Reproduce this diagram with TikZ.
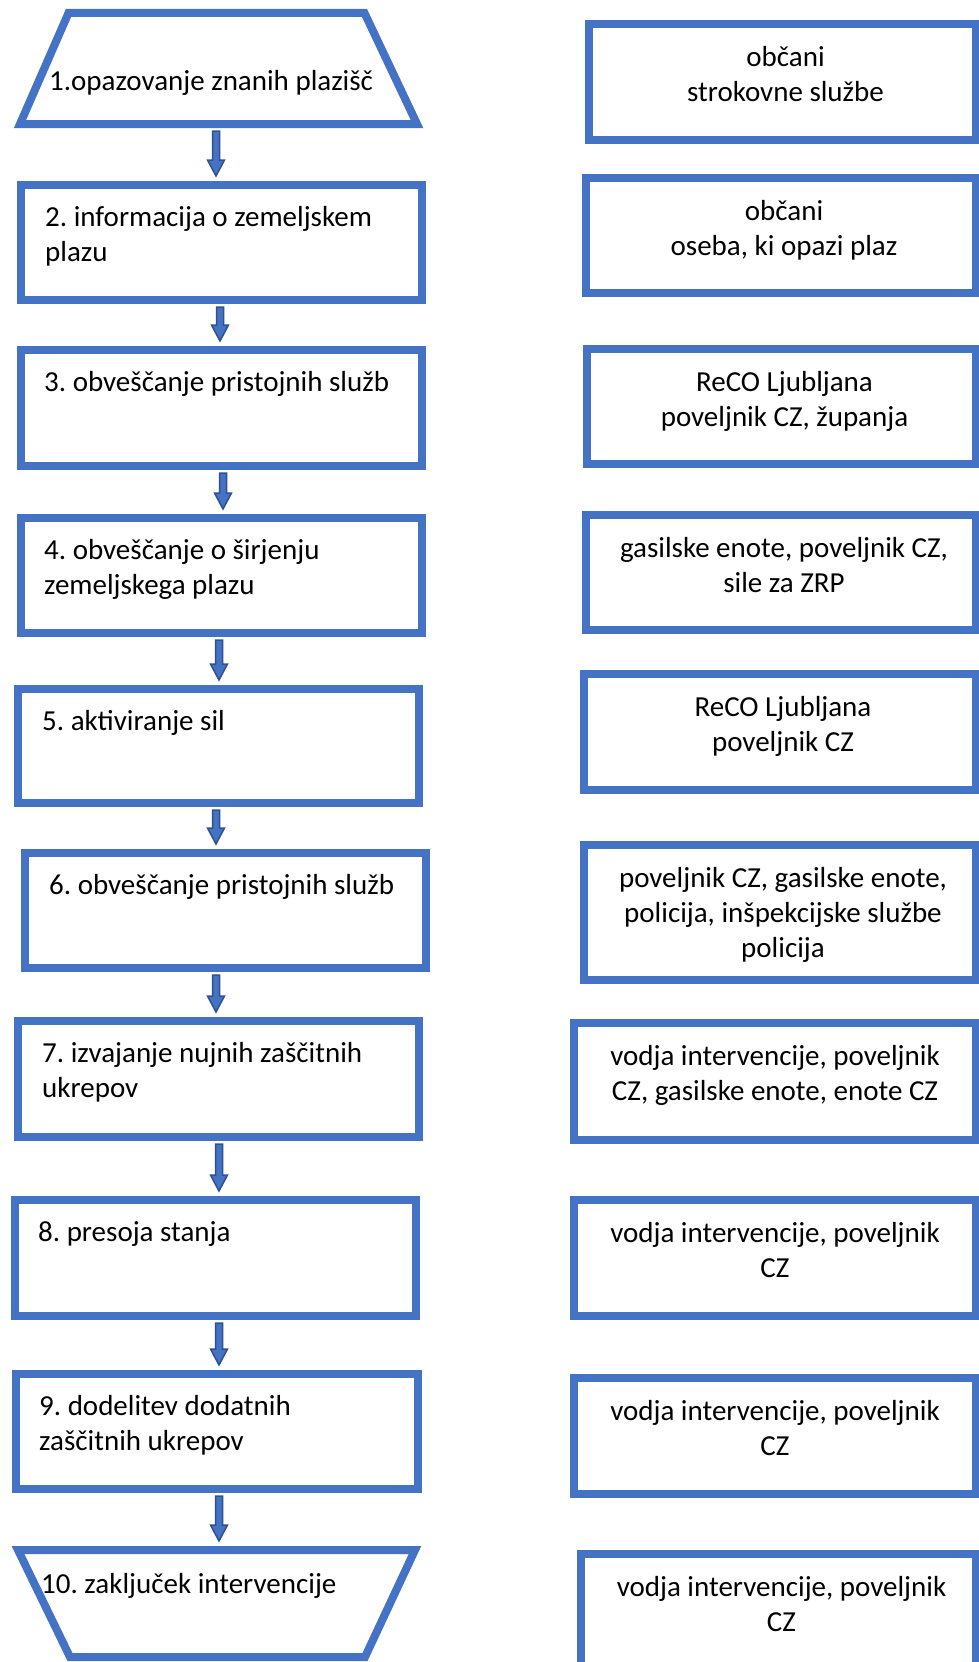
\documentclass[tikz,border=0pt]{standalone}
\usepackage{fontspec}
\setmainfont{Carlito}
\usetikzlibrary{calc}
\frenchspacing
\definecolor{boxblue}{HTML}{4472C4}
\definecolor{arrowdark}{HTML}{2F528F}
\tikzset{
  frame/.style={draw=boxblue, line width=8pt, inner sep=0pt, outer sep=0pt, rectangle, line join=miter},
  ghost/.style={inner sep=0pt, outer sep=0pt, rectangle},
  trapline/.style={draw=boxblue, line width=8pt, line join=miter},
  ltext/.style={anchor=base west, align=left, inner sep=0pt, font=\fontsize{29}{35}\selectfont\frenchspacing},
  rtext/.style={anchor=base, align=center, inner sep=0pt, font=\fontsize{29}{35}\selectfont\frenchspacing},
  blockarrow/.style={fill=boxblue, draw=arrowdark, line width=1.5pt, line join=miter},
}
% base anchor of a multi-line node is the baseline of its last line:
% first baseline 41 below the box top, then 35 per further line
\newcommand\flowarrow[3]{%
  \draw[blockarrow] let \p1=(#2.south), \p2=(#3.north) in
   ({#1pt-3.5pt},{\y1-7pt}) -- ({#1pt+3.5pt},{\y1-7pt}) -- ({#1pt+3.5pt},{\y2+25pt}) -- ({#1pt+8.5pt},{\y2+25pt}) -- ({#1pt},{\y2+9pt}) -- ({#1pt-8.5pt},{\y2+25pt}) -- ({#1pt-3.5pt},{\y2+25pt}) -- cycle;}
\begin{document}
\begin{tikzpicture}[x=1pt, y=-1pt]
\useasboundingbox (0,0) rectangle (979,1662);
\clip (0,0) rectangle (979,1662);
\fill[white] (0,0) rectangle (979,1662);

% left column
\node[ghost, minimum width=397, minimum height=111] (t1) at (218.5,68.5) {};
\draw[trapline] ([xshift=48.5pt]t1.north west) -- ([xshift=-52.5pt]t1.north east) -- (t1.south east) -- (t1.south west) -- cycle;
\node[ltext] (t1t) at (49,90) {1.opazovanje znanih plazišč};

\node[frame, minimum width=401, minimum height=115] (b2) at (221.5,242.5) {};
\node[ltext] (b2t) at ([xshift=24pt,yshift=-76pt]b2.north west) {2. informacija o zemeljskem\\plazu};

\node[frame, minimum width=401, minimum height=116] (b3) at (221.5,408) {};
\node[ltext] (b3t) at ([xshift=23pt,yshift=-41pt]b3.north west) {3. obveščanje pristojnih služb};

\node[frame, minimum width=401, minimum height=115] (b4) at (221.5,575.5) {};
\node[ltext] (b4t) at ([xshift=23pt,yshift=-76pt]b4.north west) {4. obveščanje o širjenju\\zemeljskega plazu};

\node[frame, minimum width=401, minimum height=114] (b5) at (218.5,746) {};
\node[ltext] (b5t) at ([xshift=24pt,yshift=-41pt]b5.north west) {5. aktiviranje sil};

\node[frame, minimum width=401, minimum height=115] (b6) at (225.5,910.5) {};
\node[ltext] (b6t) at ([xshift=24pt,yshift=-41pt]b6.north west) {6. obveščanje pristojnih služb};

\node[frame, minimum width=401, minimum height=116] (b7) at (218.5,1079) {};
\node[ltext] (b7t) at ([xshift=24pt,yshift=-76pt]b7.north west) {7. izvajanje nujnih zaščitnih\\ukrepov};

\node[frame, minimum width=401.5, minimum height=116] (b8) at (215.25,1258) {};
\node[ltext] (b8t) at ([xshift=23.5pt,yshift=-41pt]b8.north west) {8. presoja stanja};

\node[frame, minimum width=402, minimum height=115] (b9) at (217,1431.5) {};
\node[ltext] (b9t) at ([xshift=23pt,yshift=-76pt]b9.north west) {9. dodelitev dodatnih\\zaščitnih ukrepov};

\node[ghost, minimum width=397, minimum height=107] (t10) at (216.5,1603.5) {};
\draw[trapline] (t10.north west) -- (t10.north east) -- ([xshift=-50pt]t10.south east) -- ([xshift=52pt]t10.south west) -- cycle;
\node[ltext] (t10t) at (41,1593) {10. zaključek intervencije};

% arrows
\flowarrow{216}{t1}{b2}
\flowarrow{220}{b2}{b3}
\flowarrow{223}{b3}{b4}
\flowarrow{219}{b4}{b5}
\flowarrow{216}{b5}{b6}
\flowarrow{216}{b6}{b7}
\flowarrow{219}{b7}{b8}
\flowarrow{219}{b8}{b9}
\flowarrow{219}{b9}{t10}

% right column
\node[frame, minimum width=387, minimum height=116] (r1) at (782.5,82) {};
\node[rtext] (r1t) at ([xshift=3pt,yshift=-77pt]r1.north) {občani\\strokovne službe};

\node[frame, minimum width=390, minimum height=115] (r2) at (781,235.5) {};
\node[rtext] (r2t) at ([xshift=3pt,yshift=-77pt]r2.north) {občani\\oseba, ki opazi plaz};

\node[frame, minimum width=389, minimum height=115] (r3) at (781.5,406.5) {};
\node[rtext] (r3t) at ([xshift=3pt,yshift=-77pt]r3.north) {ReCO Ljubljana\\poveljnik CZ, županja};

\node[frame, minimum width=390, minimum height=115] (r4) at (781,572.5) {};
\node[rtext] (r4t) at ([xshift=3pt,yshift=-77pt]r4.north) {gasilske enote, poveljnik CZ,\\sile za ZRP};

\node[frame, minimum width=392, minimum height=116] (r5) at (780,732) {};
\node[rtext] (r5t) at ([xshift=3pt,yshift=-77pt]r5.north) {ReCO Ljubljana\\poveljnik CZ};

\node[frame, minimum width=392, minimum height=135] (r6) at (780,912.5) {};
\node[rtext] (r6t) at ([xshift=3pt,yshift=-112pt]r6.north) {poveljnik CZ, gasilske enote,\\policija, inšpekcijske službe\\policija};

\node[frame, minimum width=402, minimum height=117] (r7) at (775,1081.5) {};
\node[rtext] (r7t) at ([xshift=0pt,yshift=-77pt]r7.north) {vodja intervencije, poveljnik\\CZ, gasilske enote, enote CZ};

\node[frame, minimum width=402, minimum height=116] (r8) at (775,1258) {};
\node[rtext] (r8t) at ([xshift=0pt,yshift=-77pt]r8.north) {vodja intervencije, poveljnik\\CZ};

\node[frame, minimum width=402, minimum height=116] (r9) at (775,1436) {};
\node[rtext] (r9t) at ([xshift=0pt,yshift=-77pt]r9.north) {vodja intervencije, poveljnik\\CZ};

\node[frame, minimum width=395, minimum height=116] (r10) at (778.5,1612) {};
\node[rtext] (r10t) at ([xshift=3pt,yshift=-77pt]r10.north) {vodja intervencije, poveljnik\\CZ};
\end{tikzpicture}
\end{document}
